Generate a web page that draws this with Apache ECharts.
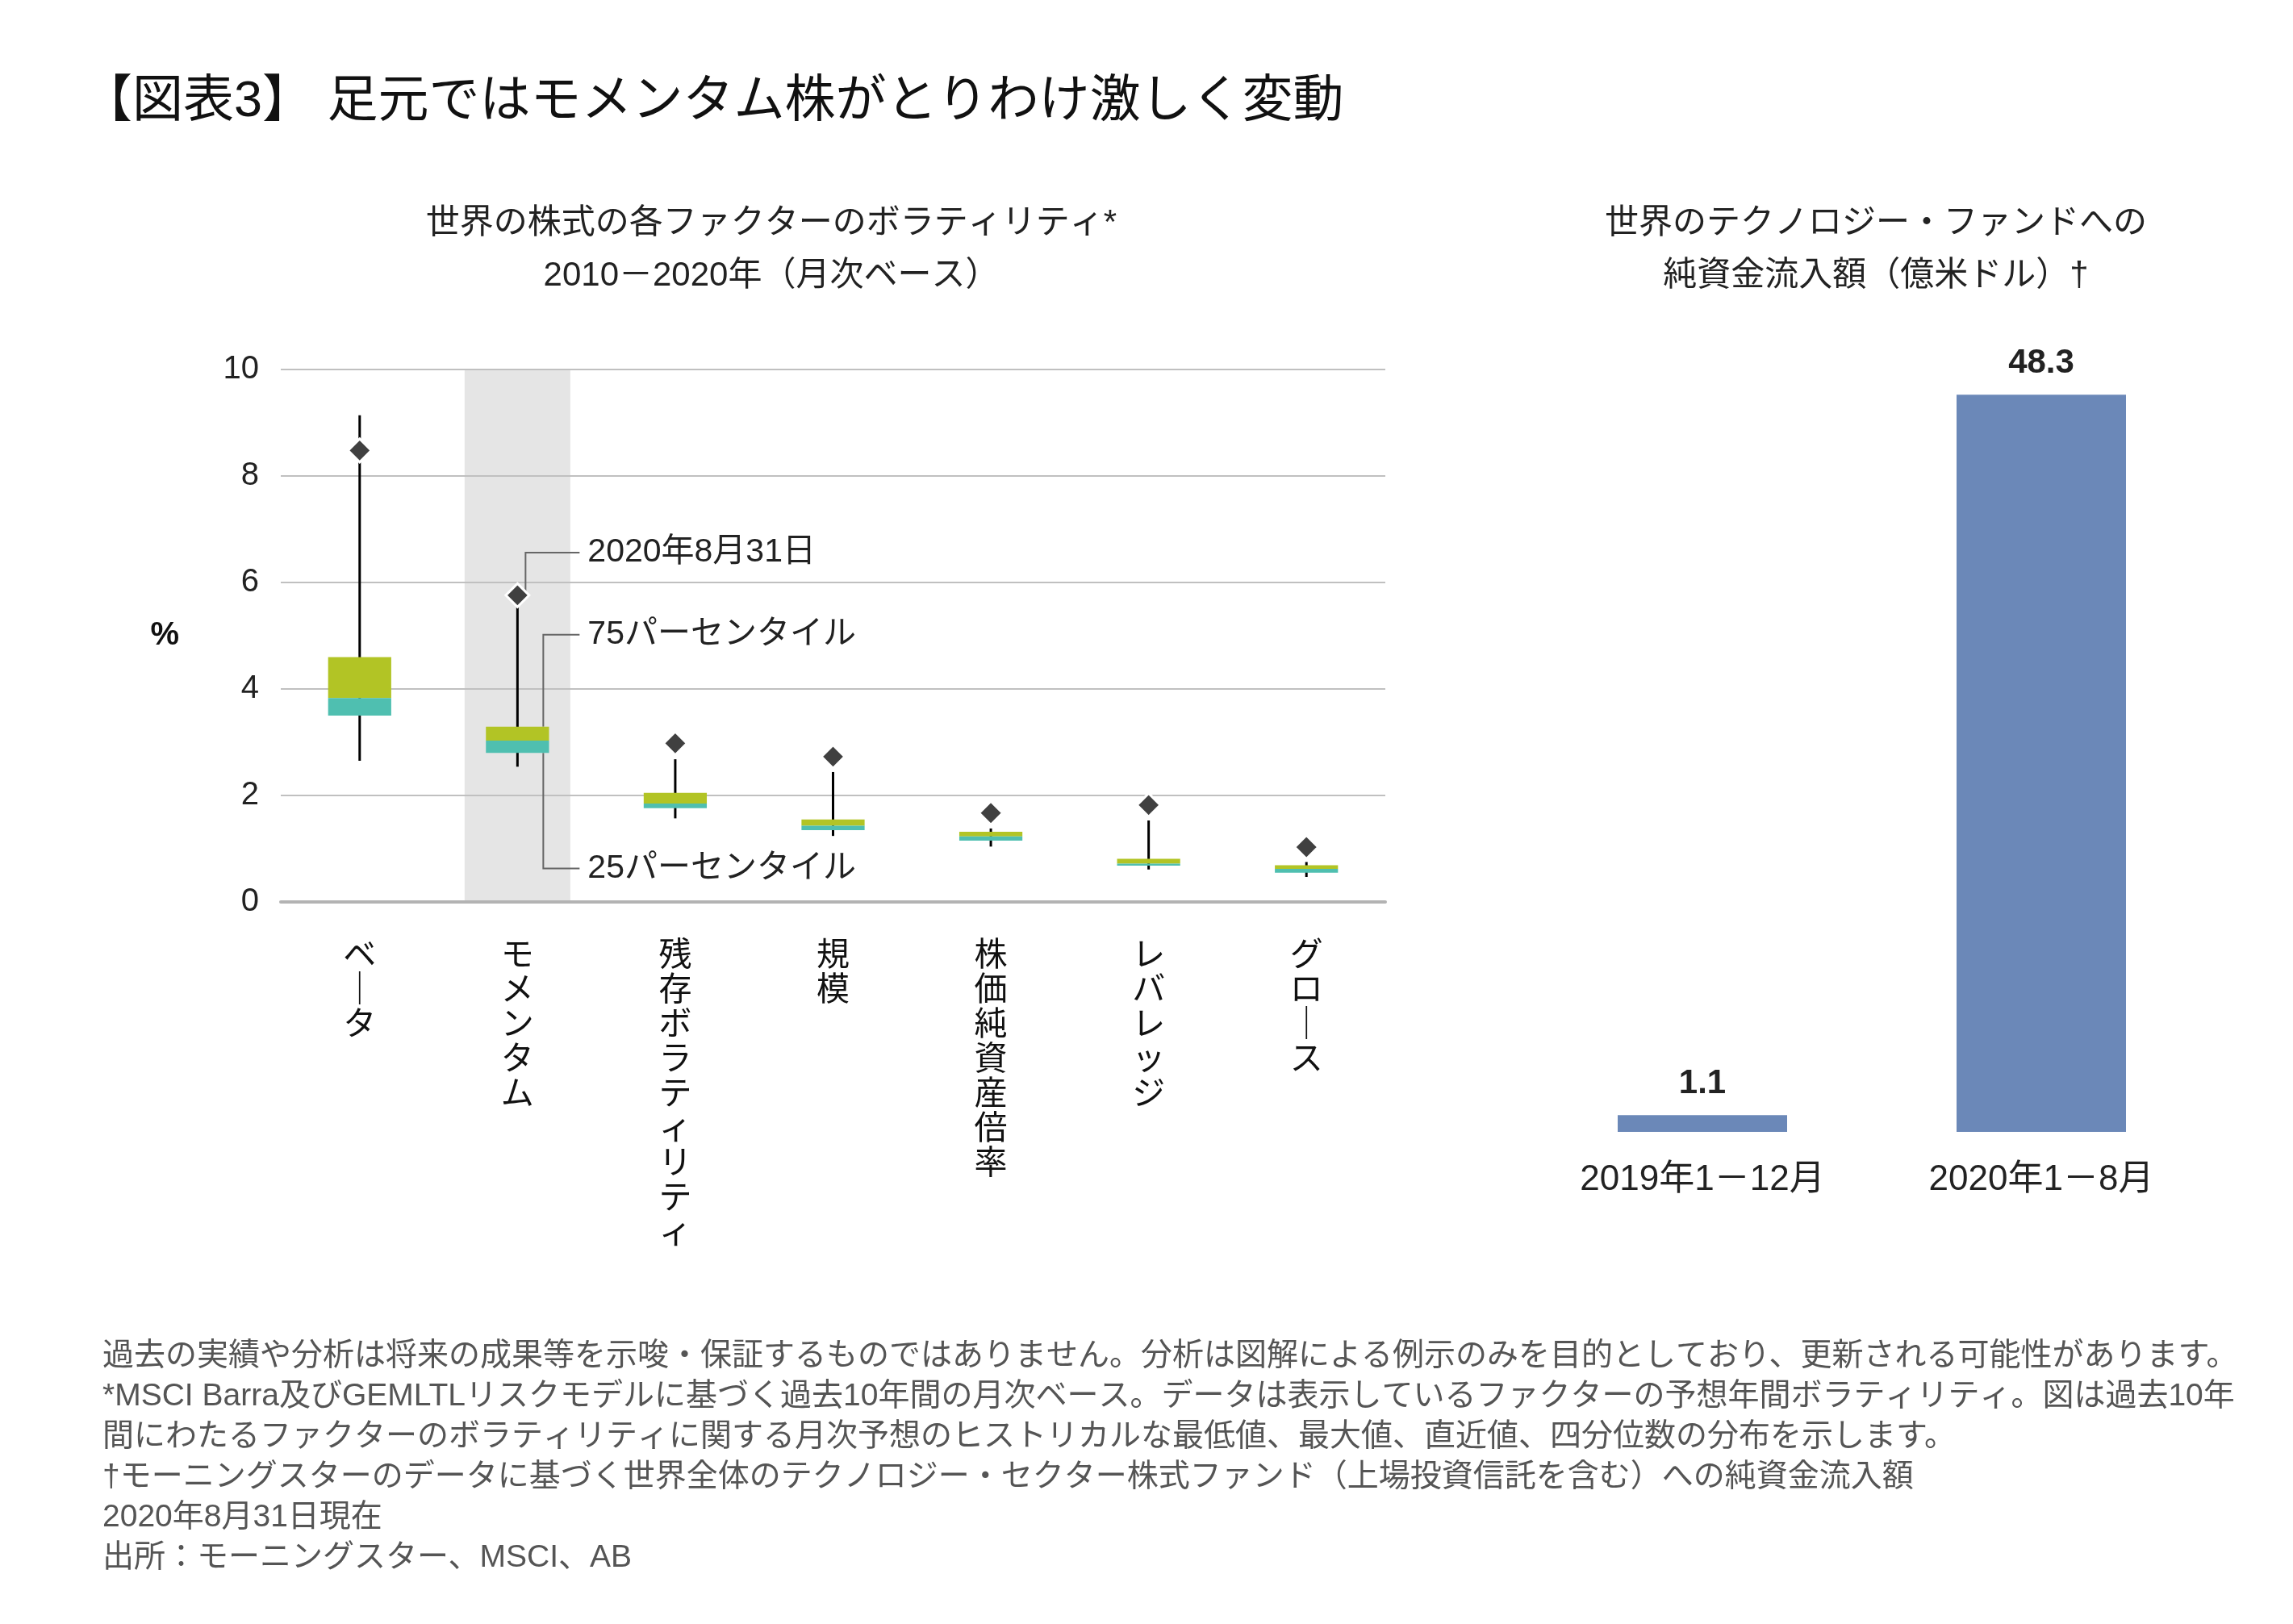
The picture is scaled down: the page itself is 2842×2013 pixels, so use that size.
<!DOCTYPE html>
<html><head><meta charset="utf-8">
<script src="https://cdn.jsdelivr.net/npm/echarts@6/dist/echarts.min.js"></script>
<style>html,body{margin:0;padding:0;background:#fff}#c{width:2842px;height:2013px}</style>
</head><body><div id="c"></div>
<script>
const FONT = "'Liberation Sans','Noto Sans CJK JP',sans-serif";

// ---- Left chart data: factor volatility (%), monthly 2010-2020 ----
const categories = ['ベータ','モメンタム','残存ボラティリティ','規模','株価純資産倍率','レバレッジ','グロース'];
const volMin     = [2.65, 2.54, 1.57, 1.24, 1.04, 0.61, 0.47];
const volQ1      = [3.50, 2.80, 1.76, 1.35, 1.15, 0.68, 0.55];
const volMedian  = [3.83, 3.03, 1.85, 1.43, 1.23, 0.72, 0.62];
const volQ3      = [4.60, 3.29, 2.05, 1.55, 1.32, 0.81, 0.69];
const volMax     = [9.14, 5.60, 2.68, 2.44, 1.38, 1.53, 0.75];
const volCurrent = [8.48, 5.76, 2.98, 2.73, 1.67, 1.82, 1.03];
const yTicks = [0, 2, 4, 6, 8, 10];
const highlightCategory = 'モメンタム';

// ---- Right chart data: tech fund net inflows (100m USD) ----
const fundCategories = ['2019年1－12月', '2020年1－8月'];
const fundFlows = [1.1, 48.3];

// annotations on the highlighted category
const annotationTexts = ['2020年8月31日', '75パーセンタイル', '25パーセンタイル'];
const annotationAnchors = ['current', 'q3', 'q1'];
const annotationLabelValues = [6.56, 5.02, 0.63];

const footnotes = [
  '過去の実績や分析は将来の成果等を示唆・保証するものではありません。分析は図解による例示のみを目的としており、更新される可能性があります。',
  '*MSCI Barra及びGEMLTLリスクモデルに基づく過去10年間の月次ベース。データは表示しているファクターの予想年間ボラティリティ。図は過去10年',
  '間にわたるファクターのボラティリティに関する月次予想のヒストリカルな最低値、最大値、直近値、四分位数の分布を示します。',
  '†モーニングスターのデータに基づく世界全体のテクノロジー・セクター株式ファンド（上場投資信託を含む）への純資金流入額',
  '2020年8月31日現在',
  '出所：モーニングスター、MSCI、AB'
];

const GREEN = '#B2C425', TEAL = '#4FBFB0', DIAMOND = '#404040';
const hiIdx = categories.indexOf(highlightCategory);

const boxData = categories.map((c, i) => [i, volMin[i], volQ1[i], volMedian[i], volQ3[i], volMax[i], volCurrent[i]]);

const chart = echarts.init(document.getElementById('c'), null, {renderer: 'canvas'});

chart.setOption({
  backgroundColor: '#fff',
  animation: false,
  textStyle: {fontFamily: FONT},
  title: [
    {text: '【図表3】 足元ではモメンタム株がとりわけ激しく変動', left: 96, top: 90,
     textStyle: {fontFamily: FONT, fontSize: 63, fontWeight: 'normal', color: '#111'}},
    {text: '世界の株式の各ファクターのボラティリティ*\n2010－2020年（月次ベース）', left: 951, top: 240, textAlign: 'center',
     textStyle: {fontFamily: FONT, fontSize: 42, fontWeight: 'normal', color: '#222', lineHeight: 65}},
    {text: '世界のテクノロジー・ファンドへの\n純資金流入額（億米ドル）†', left: 2320, top: 240, textAlign: 'center',
     textStyle: {fontFamily: FONT, fontSize: 42, fontWeight: 'normal', color: '#222', lineHeight: 65}},
    {text: footnotes.join('\n'), left: 122, top: 1651,
     textStyle: {fontFamily: FONT, fontSize: 39, fontWeight: 'normal', color: '#555', lineHeight: 50}}
  ],
  grid: [
    {left: 348, top: 458, width: 1369, height: 660},
    {left: 1900, top: 457, width: 840, height: 946}
  ],
  xAxis: [
    {type: 'category', gridIndex: 0, data: categories, z: 4,
     axisLine: {lineStyle: {color: '#b3b3b3', width: 4}},
     axisTick: {show: false},
     axisLabel: {color: '#111', fontSize: 41, lineHeight: 43, margin: 46, verticalAlign: 'top',
       formatter: v => Array.from(v).map(ch => ch === 'ー' ? '｜' : ch).join('\n')}},
    {type: 'category', gridIndex: 1, data: fundCategories,
     axisLine: {show: false}, axisTick: {show: false},
     axisLabel: {color: '#222', fontSize: 44, margin: 38}}
  ],
  yAxis: [
    {type: 'value', gridIndex: 0, min: yTicks[0], max: yTicks[yTicks.length - 1], interval: yTicks[1] - yTicks[0], z: 1,
     name: '%', nameLocation: 'middle', nameRotate: 0, nameGap: 126,
     nameTextStyle: {fontSize: 40, fontWeight: 'bold', color: '#111'},
     axisLine: {show: false}, axisTick: {show: false},
     axisLabel: {color: '#222', fontSize: 40, margin: 27},
     splitLine: {lineStyle: {color: '#c0c0c0', width: 2}}},
    {type: 'value', gridIndex: 1, min: 0, max: 50, show: false, splitLine: {show: false}}
  ],
  series: [
    {
      type: 'custom', name: 'band', xAxisIndex: 0, yAxisIndex: 0, z: 0, silent: true,
      data: [[hiIdx]],
      renderItem: (params, api) => {
        const i = api.value(0);
        const bw = api.size([1, 0])[0] * 0.67;
        const top = api.coord([i, yTicks[yTicks.length - 1]]);
        const bot = api.coord([i, 0]);
        return {type: 'rect', shape: {x: top[0] - bw / 2, y: top[1], width: bw, height: bot[1] - top[1]},
                style: {fill: '#e5e5e5'}};
      }
    },
    {
      type: 'custom', name: 'annot', xAxisIndex: 0, yAxisIndex: 0, z: 2, silent: true,
      data: [[hiIdx]],
      renderItem: (params, api) => {
        const i = api.value(0);
        const cx = api.coord([i, 0])[0];
        const anchorVal = {current: volCurrent[i], q3: volQ3[i], q1: volQ1[i]};
        const children = [];
        annotationTexts.forEach((t, k) => {
          const lx = cx + (annotationAnchors[k] === 'current' ? 10 : 32);
          const y0 = api.coord([i, anchorVal[annotationAnchors[k]]])[1];
          const y1 = api.coord([i, annotationLabelValues[k]])[1];
          children.push({type: 'polyline', shape: {points: [[lx, y0], [lx, y1], [cx + 77, y1]]},
                         style: {stroke: '#666', lineWidth: 2, fill: null}});
          children.push({type: 'text', style: {text: t, x: cx + 87, y: y1, verticalAlign: 'middle',
                         fontSize: 41, fontFamily: FONT, fill: '#222'}});
        });
        return {type: 'group', children};
      }
    },
    {
      type: 'custom', name: 'box', xAxisIndex: 0, yAxisIndex: 0, z: 3,
      data: boxData,
      encode: {x: 0, y: [1, 2, 3, 4, 5, 6]},
      renderItem: (params, api) => {
        const i = api.value(0);
        const cx = api.coord([i, 0])[0];
        const bw = api.size([1, 0])[0] * 0.4;
        const y = v => api.coord([i, v])[1];
        const yMin = y(api.value(1)), yQ1 = y(api.value(2)), yMed = y(api.value(3)),
              yQ3 = y(api.value(4)), yMax = y(api.value(5)), yCur = y(api.value(6));
        const d = 14.5;
        return {type: 'group', children: [
          {type: 'line', shape: {x1: cx, y1: yMin, x2: cx, y2: yMax}, style: {stroke: '#000', lineWidth: 3}},
          {type: 'rect', shape: {x: cx - bw / 2, y: yQ3, width: bw, height: yMed - yQ3}, style: {fill: GREEN}},
          {type: 'rect', shape: {x: cx - bw / 2, y: yMed, width: bw, height: yQ1 - yMed}, style: {fill: TEAL}},
          {type: 'polygon', shape: {points: [[cx, yCur - d], [cx + d, yCur], [cx, yCur + d], [cx - d, yCur]]},
           style: {fill: DIAMOND, stroke: '#fff', lineWidth: 3}}
        ]};
      }
    },
    {
      type: 'bar', name: 'flows', xAxisIndex: 1, yAxisIndex: 1, data: fundFlows, barWidth: '50%',
      itemStyle: {color: '#6B88B8'},
      label: {show: true, position: 'top', distance: 18, fontSize: 42, fontWeight: 'bold', color: '#222', fontFamily: FONT}
    }
  ]
});
</script></body></html>
